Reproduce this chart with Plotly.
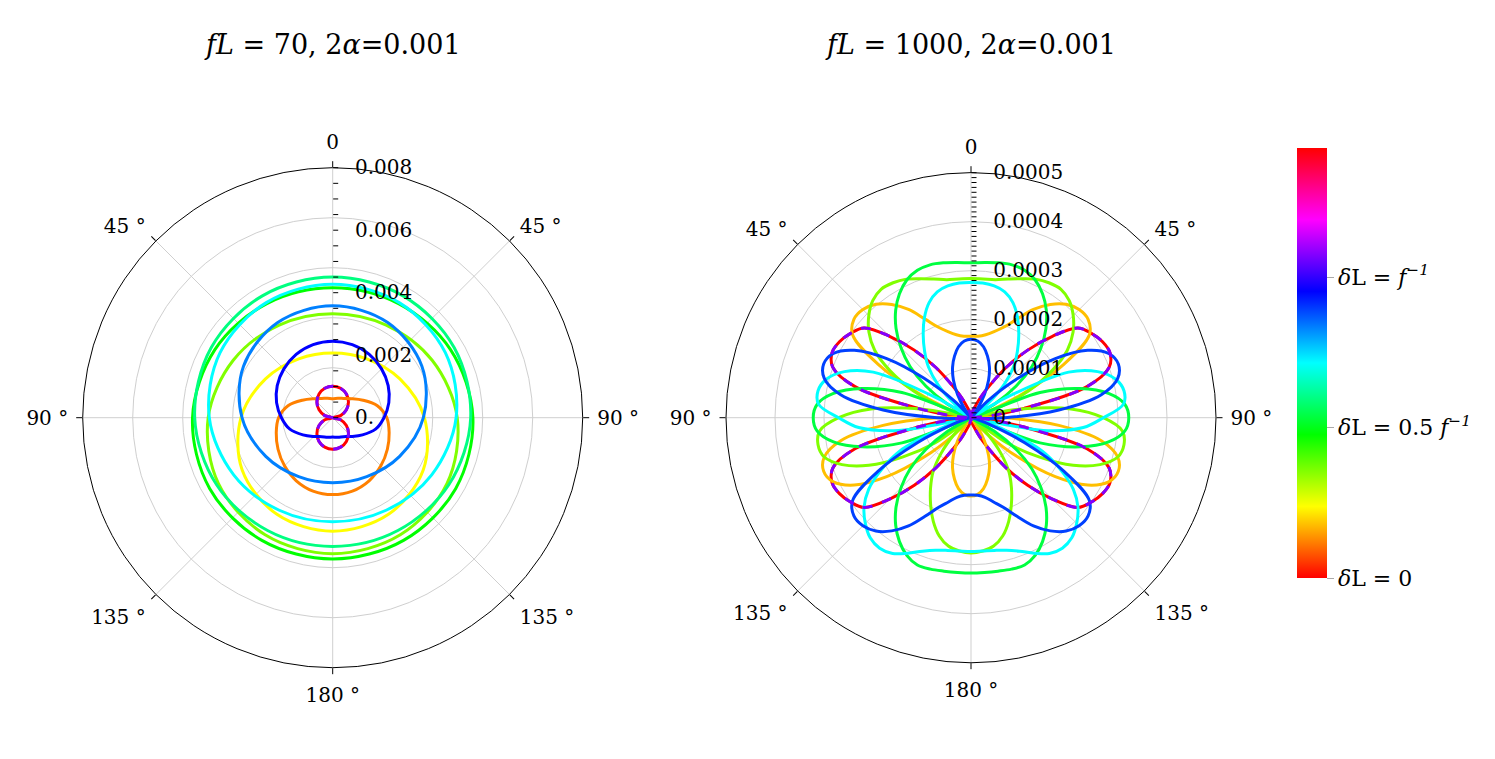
import plotly.graph_objects as go

# ---------------- data ----------------
# Left panel: fL = 70, radii in units of 1e-3, angle measured from the top (right half, mirrored)
theta_L = [0, 30, 60, 90, 120, 150, 180]
theta_L_fine = [0, 15, 30, 45, 60, 75, 90, 105, 120, 135, 150, 165, 180]
rL_red = [1.01, 0.976, 0.875, 0.714, 0.505, 0.261, 0.0, 0.261, 0.505, 0.714, 0.875, 0.976, 1.01]
rL_orange = [0.61, 0.645, 0.71, 0.86, 1.12, 1.48, 1.73, 1.87, 2.02, 2.18, 2.33, 2.43, 2.46]
rL_yellow = [2.07, 2.174, 2.483, 2.934, 3.345, 3.570, 3.63]
rL_chartreuse = [3.33, 3.424, 3.675, 3.985, 4.221, 4.327, 4.35]
rL_green = [4.16, 4.216, 4.353, 4.486, 4.543, 4.533, 4.52]
rL_spring = [4.50, 4.502, 4.487, 4.416, 4.290, 4.169, 4.12]
rL_cyan = [4.27, 4.252, 4.162, 3.949, 3.659, 3.420, 3.33]
rL_azure = [3.58, 3.518, 3.296, 2.902, 2.474, 2.180, 2.08]
rL_blue = [2.45, 2.42, 2.34, 2.21, 2.05, 1.86, 1.64, 1.42, 1.10, 0.85, 0.70, 0.645, 0.62]

# Right panel: fL = 1000, radii in units of 1e-4
theta_R = [0, 5, 10, 15, 20, 25, 30, 35, 40, 45, 50, 55, 60, 65, 70, 75, 80, 85, 90,
           95, 100, 105, 110, 115, 120, 125, 130, 135, 140, 145, 150, 155, 160, 165, 170, 175, 180]
rR_red = [0, 0.03, 0.08, 0.15, 0.24, 0.45, 0.75, 1.25, 1.8, 2.35, 2.85, 3.0, 3.1, 3.13, 3.0, 2.45, 1.1, 0.3, 0,
          0.3, 1.1, 2.45, 3.0, 3.13, 3.1, 3.0, 2.85, 2.35, 1.8, 1.25, 0.75, 0.45, 0.24, 0.15, 0.08, 0.03, 0]
rR_orange = [1.66, 1.67, 1.72, 1.82, 1.97, 2.22, 2.55, 2.82, 3.02, 3.12, 3.12, 2.95, 2.2, 1.2, 0.4, 0.1, 0.05, 0.15, 0.7,
             1.8, 2.7, 3.1, 3.2, 3.1, 2.75, 2.1, 1.25, 0.5, 0.05, 0.25, 0.55, 0.85, 1.1, 1.3, 1.47, 1.57, 1.6]
rR_chartreuse = [2.84, 2.84, 2.86, 2.93, 3.02, 3.12, 3.18, 3.2, 3.12, 2.95, 2.72, 2.4, 1.9, 1.3, 0.6, 0.2, 1.0, 2.05, 2.7,
                 3.1, 3.17, 3.1, 2.8, 2.3, 1.6, 0.9, 0.15, 0.5, 0.95, 1.35, 1.65, 1.95, 2.25, 2.5, 2.66, 2.73, 2.76]
rR_green = [3.16, 3.18, 3.21, 3.23, 3.2, 3.1, 2.92, 2.68, 2.38, 2.02, 1.62, 1.12, 0.55, 0.0, 1.5, 2.3, 2.85, 3.15, 3.22,
            3.15, 2.85, 2.3, 1.5, 0.0, 0.55, 1.12, 1.62, 2.02, 2.38, 2.68, 2.92, 3.1, 3.2, 3.2, 3.18, 3.17, 3.17]
rR_cyan = [2.76, 2.76, 2.73, 2.66, 2.5, 2.25, 1.95, 1.65, 1.35, 0.95, 0.45, 0.1, 0.8, 2.2, 2.75, 3.05, 3.17, 3.12, 2.7,
           2.3, 1.5, 0.3, 0.7, 1.6, 2.1, 2.55, 2.85, 3.05, 3.2, 3.25, 3.2, 3.05, 2.9, 2.8, 2.75, 2.73, 2.73]
rR_blue = [1.6, 1.57, 1.47, 1.3, 1.1, 0.85, 0.55, 0.25, 0.05, 0.5, 1.25, 2.1, 2.75, 3.1, 3.2, 3.1, 2.7, 1.8, 0.7,
           0.15, 0.05, 0.1, 0.4, 1.2, 2.2, 2.95, 3.12, 3.12, 3.02, 2.82, 2.55, 2.22, 1.95, 1.78, 1.65, 1.59, 1.58]

titles = ["<i>fL</i> = 70, 2<i>α</i>=0.001", "<i>fL</i> = 1000, 2<i>α</i>=0.001"]
ang_vals = [0, 45, 90, 135, 180, 225, 270, 315]
ang_text = ["0", "45 °", "90 °", "135 °", "180 °", "135 °", "90 °", "45 °"]
cbar_vals = [0, 0.5, 1.0]
cbar_text = ["<i>δ</i>L = 0", "<i>δ</i>L = 0.5 <i>f</i><sup><i>−1</i></sup>", "<i>δ</i>L = <i>f</i><sup><i>−1</i></sup>"]
cbar_max = 1.4286

FONT = "DejaVu Serif"
OFF = 8                      # the page body margin shifts the figure by 8 px
W, H = 1495 - OFF, 759 - OFF
PAD = "\u00a0\u00a0"


def mirror(theta, r, scale):
    th = list(theta) + [360 - t for t in reversed(theta[1:-1])] + [theta[0]]
    rr = list(r) + list(reversed(r[1:-1])) + [r[0]]
    return th, [v * scale for v in rr]


fig = go.Figure()


def add_curve(theta, r, scale, color, subplot, dash=None):
    th, rr = mirror(theta, r, scale)
    fig.add_trace(go.Scatterpolar(
        r=rr, theta=th, mode="lines", subplot=subplot, showlegend=False, hoverinfo="skip",
        line=dict(color=color, width=3, shape="spline", smoothing=1, dash=dash)))


# left panel curves
add_curve(theta_L_fine, rL_red, 1e-3, "#ff0000", "polar")
add_curve(theta_L_fine, rL_orange, 1e-3, "#ff8000", "polar")
add_curve(theta_L, rL_yellow, 1e-3, "#ffff00", "polar")
add_curve(theta_L, rL_chartreuse, 1e-3, "#80ff00", "polar")
add_curve(theta_L, rL_green, 1e-3, "#00ff00", "polar")
add_curve(theta_L, rL_spring, 1e-3, "#00ff80", "polar")
add_curve(theta_L, rL_cyan, 1e-3, "#00ffff", "polar")
add_curve(theta_L, rL_azure, 1e-3, "#0080ff", "polar")
add_curve(theta_L_fine, rL_blue, 1e-3, "#0000ff", "polar")
add_curve(theta_L_fine, rL_red, 1e-3, "#8000ff", "polar", dash="10px,10px")

# right panel curves
add_curve(theta_R, rR_red, 1e-4, "#ff0000", "polar3")
add_curve(theta_R, rR_orange, 1e-4, "#ffbf00", "polar3")
add_curve(theta_R, rR_chartreuse, 1e-4, "#80ff00", "polar3")
add_curve(theta_R, rR_green, 1e-4, "#00ff40", "polar3")
add_curve(theta_R, rR_cyan, 1e-4, "#00ffff", "polar3")
add_curve(theta_R, rR_blue, 1e-4, "#0040ff", "polar3")
add_curve(theta_R, rR_red, 1e-4, "#8000ff", "polar3", dash="10px,10px")

# empty trace so the overlay subplot exists
fig.add_trace(go.Scatterpolar(r=[], theta=[], subplot="polar2", showlegend=False))

# colour bar (hue wheel)
hue_scale = [[0, "#ff0000"], [1 / 6, "#ffff00"], [2 / 6, "#00ff00"], [3 / 6, "#00ffff"],
             [4 / 6, "#0000ff"], [5 / 6, "#ff00ff"], [1, "#ff0000"]]
fig.add_trace(go.Scatterpolar(
    r=[None, None], theta=[None, None], mode="markers", subplot="polar4", showlegend=False,
    hoverinfo="skip",
    marker=dict(color=[0, cbar_max], colorscale=hue_scale, cmin=0, cmax=cbar_max, showscale=True,
                size=0.1, opacity=0,
                colorbar=dict(x=(1297 - OFF) / W, xanchor="left", y=(H - (363 - OFF)) / H, yanchor="middle",
                              len=430 / H, lenmode="fraction", thickness=30, thicknessmode="pixels",
                              outlinewidth=0, tickvals=cbar_vals, ticktext=cbar_text,
                              ticks="outside", ticklen=7, tickcolor="#aaaaaa", xpad=0, ypad=0,
                              tickfont=dict(family=FONT, size=22, color="black")))))


def dom(cx, cy, rad):
    x = cx - OFF
    y = cy - OFF
    return dict(x=[(x - rad) / W, (x + rad) / W], y=[(H - y - rad) / H, (H - y + rad) / H])


def back_polar(cx, cy, rad, rmax, grid_step):
    return dict(
        domain=dom(cx, cy, rad), bgcolor="white",
        angularaxis=dict(rotation=90, direction="clockwise", tickmode="array", tickvals=ang_vals,
                         ticktext=ang_text, showline=True, linecolor="black", linewidth=1,
                         gridcolor="#cfcfcf", gridwidth=1, ticks="outside", ticklen=10,
                         tickcolor="rgba(0,0,0,0)", tickfont=dict(family=FONT, size=20, color="black")),
        radialaxis=dict(range=[0, rmax], tick0=0, dtick=grid_step, showticklabels=False, ticks="",
                        showline=False, gridcolor="#cfcfcf", gridwidth=1, angle=90))


def front_polar(cx, cy, rad, rmax, tvals, ttext):
    return dict(
        domain=dom(cx, cy, rad), bgcolor="rgba(0,0,0,0)",
        angularaxis=dict(rotation=90, direction="clockwise", tickmode="array", tickvals=ang_vals,
                         showticklabels=False, showline=False, showgrid=False, ticks="outside",
                         ticklen=6, tickcolor="black"),
        radialaxis=dict(range=[0, rmax], tickmode="array", tickvals=tvals, ticktext=ttext,
                        showgrid=False, showline=False, ticks="outside", ticklen=5, tickcolor="black",
                        angle=90, tickangle=90, side="clockwise",
                        tickfont=dict(family=FONT, size=20, color="black")))


tvL = [i * 0.0005 for i in range(17)]
ttL = []
for i in range(17):
    if i == 0:
        ttL.append(PAD + "0.")
    elif i % 4 == 0:
        ttL.append(PAD + "%.3f" % (i * 0.0005))
    else:
        ttL.append("")
tvR = [i * 0.00001 for i in range(51)]
ttR = []
for i in range(51):
    if i == 0:
        ttR.append(PAD + "0.")
    elif i % 10 == 0:
        ttR.append(PAD + "%.4f" % (i * 0.00001))
    else:
        ttR.append("")

fig.update_layout(
    width=W, height=H, margin=dict(l=0, r=0, t=0, b=0),
    paper_bgcolor="white", plot_bgcolor="white", showlegend=False,
    font=dict(family=FONT, color="black"),
    polar=back_polar(332.7, 417.7, 250, 0.008, 0.0016),
    polar2=front_polar(332.7, 417.7, 250, 0.008, tvL, ttL),
    polar3=back_polar(971, 417.7, 245, 0.0005, 0.0001),
    polar4=front_polar(971, 417.7, 245, 0.0005, tvR, ttR),
    annotations=[
        dict(text=titles[0], x=(332 - OFF) / W, y=(H - (45 - OFF)) / H, xref="paper", yref="paper",
             showarrow=False, font=dict(family=FONT, size=27, color="black"),
             xanchor="center", yanchor="middle"),
        dict(text=titles[1], x=(971 - OFF) / W, y=(H - (45 - OFF)) / H, xref="paper", yref="paper",
             showarrow=False, font=dict(family=FONT, size=27, color="black"),
             xanchor="center", yanchor="middle"),
    ],
)

fig.write_html("out.html")
